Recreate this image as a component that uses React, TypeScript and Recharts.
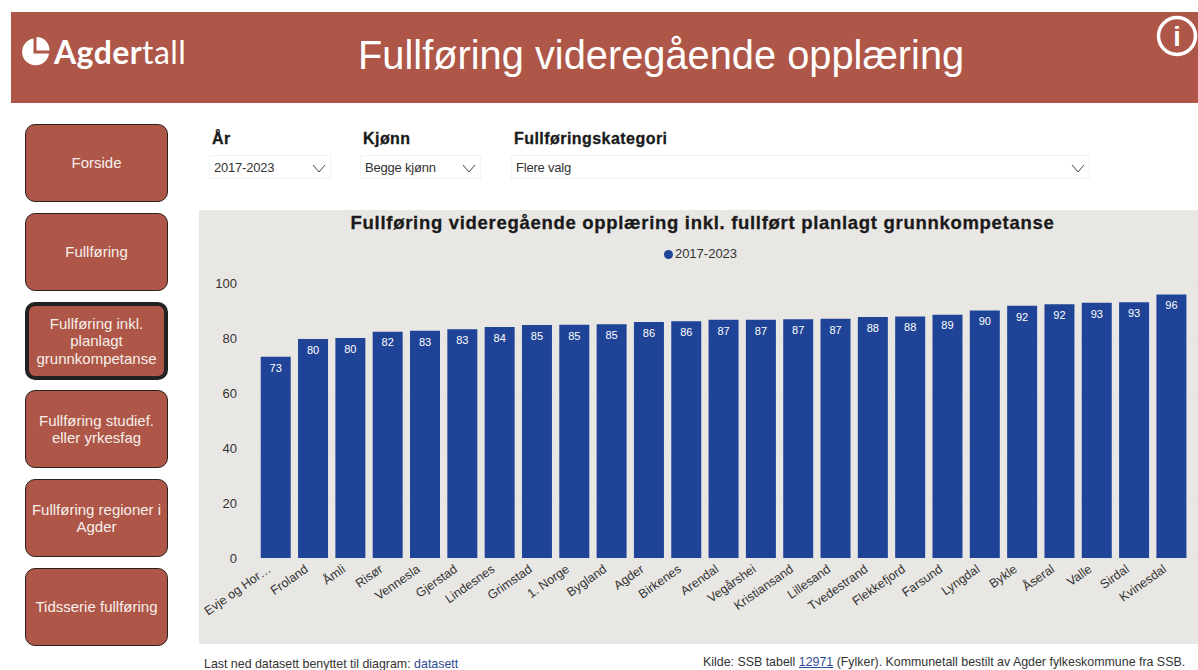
import { BarChart, Bar, XAxis, YAxis, CartesianGrid, LabelList, Legend } from "recharts";

const kommuner = [
  "Evje og Hor…", "Froland", "Åmli", "Risør", "Vennesla", "Gjerstad", "Lindesnes", "Grimstad",
  "1. Norge", "Bygland", "Agder", "Birkenes", "Arendal", "Vegårshei", "Kristiansand", "Lillesand",
  "Tvedestrand", "Flekkefjord", "Farsund", "Lyngdal", "Bykle", "Åseral", "Valle", "Sirdal", "Kvinesdal",
];
const verdier = [
  73.2, 79.6, 80, 82.3, 82.6, 83.2, 84, 84.7, 84.8, 85, 85.8, 86.1, 86.6,
  86.6, 86.8, 87, 87.6, 87.8, 88.5, 90, 91.7, 92.3, 92.8, 93, 95.8,
];
const yTicks = [0, 20, 40, 60, 80, 100];
const menyKnapper = [
  "Fullføring inkl. planlagt grunnkompetanse",
  "Forside",
  "Fullføring",
  "Fullføring studief. eller yrkesfag",
  "Fullføring regioner i Agder",
  "Tidsserie fullføring",
];
const knappTopp = [302, 124, 213, 390, 479, 568];
const filtre = [
  { label: "År", value: "2017-2023", x: 209, w: 122 },
  { label: "Kjønn", value: "Begge kjønn", x: 360, w: 121 },
  { label: "Fullføringskategori", value: "Flere valg", x: 511, w: 579 },
];

const data = kommuner.map((name, i) => ({ name, value: verdier[i] }));

const ARIAL = "'Liberation Sans', Arial, sans-serif";
const RUST = "#ae5647";
const BLUE = "#1f4497";

function KommuneTick({ x, y, payload }: any) {
  return (
    <text
      transform={`translate(${x - 4},${y + 11}) rotate(-35)`}
      textAnchor="end"
      fill="#333"
      fontSize={12.5}
      fontFamily={ARIAL}
    >
      {payload.value}
    </text>
  );
}

export default function App() {
  return (
    <div
      style={{
        position: "absolute",
        left: 0,
        top: 0,
        width: 1198,
        height: 670,
        overflow: "hidden",
        background: "#fff",
        fontFamily: ARIAL,
      }}
    >
      {/* topplinje */}
      <div style={{ position: "absolute", left: 11, top: 12, width: 1187, height: 91, background: RUST }} />
      <svg style={{ position: "absolute", left: 20, top: 35 }} width={32} height={32} viewBox="0 0 32 32">
        <path d="M13.5 3.5 A13.5 13.5 0 1 0 29 18.5 L13.5 18.5 Z" fill="#fff" />
        <path d="M16.5 2 A13 13 0 0 1 29.5 15.5 L16.5 15.5 Z" fill="#fff" />
      </svg>
      <div
        style={{
          position: "absolute",
          left: 54,
          top: 33,
          color: "#fff",
          fontFamily: "Lato, sans-serif",
          fontSize: 32,
          lineHeight: "38px",
          letterSpacing: 0.4,
        }}
      >
        <span style={{ fontWeight: 700 }}>Agder</span>
        <span style={{ fontWeight: 400 }}>tall</span>
      </div>
      <div
        style={{
          position: "absolute",
          left: 358,
          top: 31,
          color: "#fff",
          fontSize: 39.8,
          lineHeight: "48px",
          whiteSpace: "nowrap",
        }}
      >
        Fullføring videregående opplæring
      </div>
      <svg style={{ position: "absolute", left: 1155, top: 15 }} width={43} height={43}>
        <circle cx={22} cy={21} r={18.5} fill="none" stroke="#fff" strokeWidth={3.5} />
        <text x={22} y={31} textAnchor="middle" fill="#fff" fontSize={27} fontWeight={700} fontFamily={ARIAL}>
          i
        </text>
      </svg>

      {/* meny */}
      {menyKnapper.map((tekst, i) => (
        <div
          key={tekst}
          style={{
            position: "absolute",
            left: 25,
            top: knappTopp[i],
            width: 143,
            height: 78,
            boxSizing: "border-box",
            border: i === 0 ? "4px solid #222" : "1.5px solid #2b2220",
            borderRadius: 10,
            background: RUST,
            color: "#f6efeb",
            fontSize: 15,
            lineHeight: "17.5px",
            display: "flex",
            alignItems: "center",
            justifyContent: "center",
            textAlign: "center",
            padding: "0 4px",
          }}
        >
          {tekst}
        </div>
      ))}

      {/* filtre */}
      {filtre.map((f) => (
        <div key={f.label}>
          <div
            style={{
              position: "absolute",
              left: f.x + 3,
              top: 129,
              fontSize: 16,
              lineHeight: "20px",
              fontWeight: 700,
              letterSpacing: 0.45,
              WebkitTextStroke: "0.3px #1a1a1a",
              color: "#1a1a1a",
              whiteSpace: "nowrap",
            }}
          >
            {f.label}
          </div>
          <div
            style={{
              position: "absolute",
              left: f.x,
              top: 155,
              width: f.w,
              height: 24,
              boxSizing: "border-box",
              border: "1px solid #f3f3f3",
              fontSize: 13,
              letterSpacing: -0.2,
              lineHeight: "24px",
              paddingLeft: 4,
              color: "#333",
            }}
          >
            {f.value}
          </div>
          <svg style={{ position: "absolute", left: f.x + f.w - 19, top: 164 }} width={14} height={9}>
            <path d="M1 1 L7 8 L13 1" fill="none" stroke="#444" strokeWidth={1} />
          </svg>
        </div>
      ))}

      {/* diagram */}
      <div style={{ position: "absolute", left: 199, top: 210, width: 999, height: 434, background: "#e9e7e4" }}>
        <div
          style={{
            position: "absolute",
            left: 0,
            width: 1007,
            top: 2,
            textAlign: "center",
            fontSize: 18.5,
            lineHeight: "22px",
            fontWeight: 700,
            letterSpacing: 0.7,
            WebkitTextStroke: "0.3px #1a1a1a",
            color: "#1a1a1a",
            whiteSpace: "nowrap",
          }}
        >
          Fullføring videregående opplæring inkl. fullført planlagt grunnkompetanse
        </div>
        <BarChart
          width={999}
          height={434}
          data={data}
          margin={{ top: 58, right: 0, bottom: 0, left: 0 }}
          barCategoryGap="10%"
        >
          <CartesianGrid vertical={false} stroke="#d6d3cf" strokeDasharray="1 3" />
          <XAxis
            dataKey="name"
            interval={0}
            height={86}
            padding={{ left: 12, right: 8 }}
            axisLine={false}
            tickLine={false}
            tickSize={0}
            tick={<KommuneTick />}
          />
          <YAxis
            width={46}
            domain={[0, 100]}
            ticks={yTicks}
            axisLine={false}
            tickLine={false}
            tickSize={0}
            tickMargin={8}
            tick={{ fill: "#333", fontSize: 13, fontFamily: ARIAL }}
          />
          <Legend
            verticalAlign="top"
            iconType="circle"
            iconSize={9}
            wrapperStyle={{ position: "absolute", top: 36, left: 0, width: 1013, fontSize: 13, color: "#333", fontFamily: ARIAL }}
            formatter={(v) => <span style={{ color: "#333", marginLeft: -2 }}>{v}</span>}
          />
          <Bar dataKey="value" name="2017-2023" fill={BLUE} isAnimationActive={false}>
            <LabelList
              dataKey="value"
              position="insideTop"
              offset={7}
              fill="#fff"
              fontSize={11}
              fontFamily={ARIAL}
              formatter={(v) => Math.round(Number(v))}
            />
          </Bar>
        </BarChart>
      </div>

      {/* bunntekst */}
      <div style={{ position: "absolute", left: 204, top: 658, fontSize: 12.4, lineHeight: "12px", color: "#333", whiteSpace: "nowrap" }}>
        Last ned datasett benyttet til diagram: <span style={{ color: "#2f4a94" }}>datasett</span>
      </div>
      <div style={{ position: "absolute", left: 703, top: 654, fontSize: 12.4, lineHeight: "16px", color: "#333", whiteSpace: "nowrap" }}>
        Kilde: SSB tabell <span style={{ color: "#2f4a94", textDecoration: "underline" }}>12971</span> (Fylker). Kommunetall bestilt av Agder fylkeskommune fra SSB.
      </div>
    </div>
  );
}
